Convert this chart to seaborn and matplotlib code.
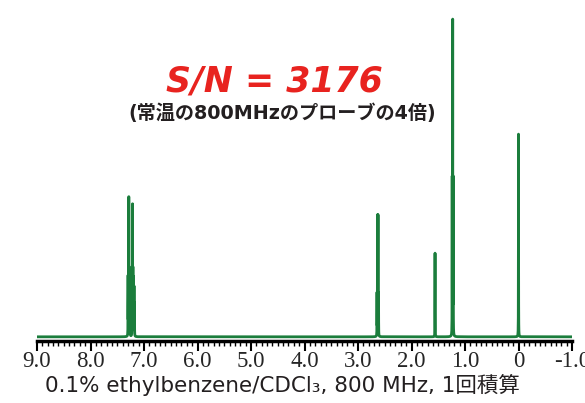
import numpy as np
import pandas as pd
import matplotlib
matplotlib.use("Agg")
import matplotlib.pyplot as plt
import seaborn as sns
from matplotlib.ticker import MultipleLocator, FixedLocator

# peak lines (ppm, relative height, tallest = 100)
line_ppm = [7.298, 7.291, 7.284, 7.277, 7.262, 7.222, 7.214, 7.207, 7.195, 7.186, 7.178,
            2.6445, 2.635, 2.6255, 2.616,
            1.560,
            1.2395, 1.230, 1.2205,
            0.000]
line_height = [18, 20, 42, 20, 12, 20, 40, 20, 18, 15, 10,
               13, 37, 37, 13,
               26,
               48, 97, 48,
               63]
line_hwhm = 0.0013

tick_values = [9, 8, 7, 6, 5, 4, 3, 2, 1, 0, -1]
tick_labels = ["9.0", "8.0", "7.0", "6.0", "5.0", "4.0", "3.0", "2.0", "1.0", "0", "-1.0"]

title_text = "S/N = 3176"
subtitle_text = "(常温の800MHzのプローブの4倍)"
caption_text = "0.1% ethylbenzene/CDCl₃, 800 MHz, 1回積算"

# build the spectrum as a sum of lorentzian lines
ppm = np.linspace(-1.0, 9.0, 20001)
intensity = np.zeros_like(ppm)
for p, h in zip(line_ppm, line_height):
    intensity += h * line_hwhm**2 / ((ppm - p)**2 + line_hwhm**2)
df = pd.DataFrame({"ppm": ppm, "intensity": intensity})

sns.set_style("white")
plt.rcParams['font.family'] = ['DejaVu Sans', 'Noto Sans CJK JP']

fig = plt.figure(figsize=(5.85, 4.03), dpi=100)
ax = fig.add_axes([37 / 585, 62 / 403, 535 / 585, 341 / 403])

sns.lineplot(data=df, x="ppm", y="intensity", ax=ax, color="#1b7d3c",
             linewidth=2.0, estimator=None, sort=False)

ax.set_xlim(9.0, -1.0)
ax.set_ylim(-1.3, 104.7)
ax.set_xlabel("")
ax.set_ylabel("")
ax.set_yticks([])

for side in ["top", "right", "left"]:
    ax.spines[side].set_visible(False)
ax.spines["bottom"].set_linewidth(2.5)
ax.spines["bottom"].set_color("black")

ax.xaxis.set_major_locator(FixedLocator(tick_values))
ax.xaxis.set_minor_locator(MultipleLocator(0.1))
ax.set_xticklabels(tick_labels, family=["Liberation Serif"], fontsize=16.5)
ax.tick_params(axis="x", which="major", direction="out", length=7, width=1.5,
               color="black", pad=0, bottom=True)
ax.tick_params(axis="x", which="minor", direction="out", length=3.5, width=1.0,
               color="black", bottom=True)

fig.text(0.469, 0.799, title_text, color="#e8231f", fontsize=25,
         fontweight="bold", fontstyle="italic", family=["DejaVu Sans"],
         ha="center", va="center")
fig.text(0.483, 0.718, subtitle_text, color="#231f20", fontsize=13.8,
         fontweight="bold", family=["DejaVu Sans", "Noto Sans CJK JP"],
         ha="center", va="center")
fig.text(0.483, 0.045, caption_text, color="#231f20", fontsize=15.5,
         family=["DejaVu Sans", "Noto Sans CJK JP"], ha="center", va="center")

fig.savefig("out.png", dpi=100)
